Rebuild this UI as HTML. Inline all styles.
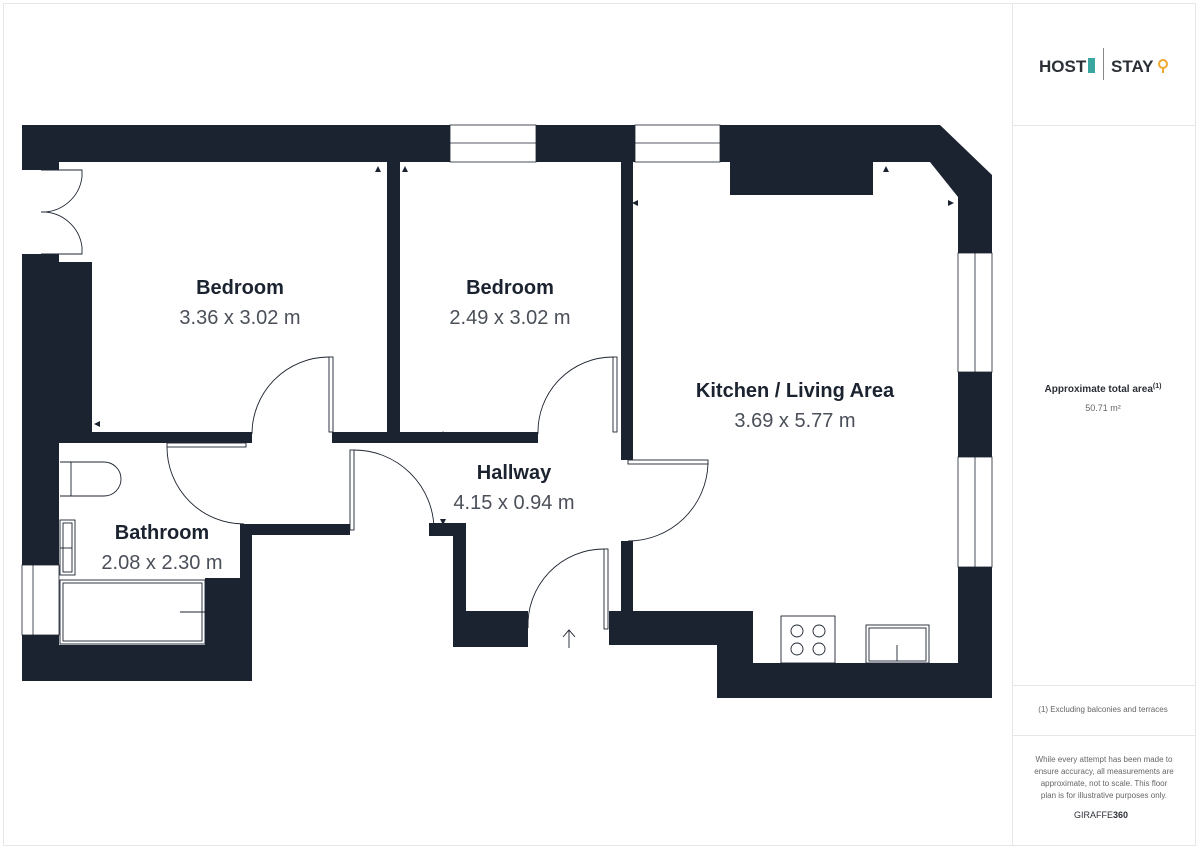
<!DOCTYPE html>
<html><head><meta charset="utf-8"><style>
html,body{margin:0;padding:0;background:#fff;}
body{width:1200px;height:849px;position:relative;overflow:hidden;font-family:"Liberation Sans",sans-serif;}
</style></head><body>
<svg width="1200" height="849" viewBox="0 0 1200 849" xmlns="http://www.w3.org/2000/svg" style="position:absolute;left:0;top:0">
<rect x="3.5" y="3.5" width="1192" height="842" fill="none" stroke="#e6e6e6" stroke-width="1"/>
<line x1="1012.5" y1="3" x2="1012.5" y2="846" stroke="#e6e6e6"/>
<line x1="1012" y1="125.5" x2="1196" y2="125.5" stroke="#e6e6e6"/>
<line x1="1012" y1="685.5" x2="1196" y2="685.5" stroke="#e6e6e6"/>
<line x1="1012" y1="735.5" x2="1196" y2="735.5" stroke="#e6e6e6"/>
<g fill="#1c2330">
<polygon points="22,125 940,125 992,175 992,698 717,698 717,645 609,645 609,611 621,611 621,541 633,541 633,611 753,611 753,663 958,663 958,197 930,162 873,162 873,195 730,195 730,162 633,162 633,460 621,460 621,162 400,162 400,432 538,432 538,443 400,443 387,443 332,443 332,432 387,432 387,162 59,162 59,170 22,170"/>
<polygon points="22,254 59,254 59,262 92,262 92,432 252,432 252,443 59,443 59,578 59,645 205,645 205,578 240,578 240,535 252,535 252,681 22,681"/>
<rect x="240" y="524" width="110" height="11"/>
<polygon points="429,523 466,523 466,611 528,611 528,647 453,647 453,536 429,536"/>
</g>
<g fill="#fff" stroke="#1c2330" stroke-width="0.8">
<rect x="450" y="125" width="86" height="37"/><line x1="450" y1="143" x2="536" y2="143"/>
<rect x="635" y="125" width="85" height="37"/><line x1="635" y1="143" x2="720" y2="143"/>
<rect x="958" y="253" width="34" height="119"/><line x1="975" y1="253" x2="975" y2="372"/>
<rect x="958" y="457" width="34" height="110"/><line x1="975" y1="457" x2="975" y2="567"/>
<rect x="22" y="565" width="37" height="70"/><line x1="33" y1="565" x2="33" y2="635"/>
</g>
<g fill="none" stroke="#1c2330" stroke-width="0.9">
<path d="M41,170 H82 V177 M82,177 A40,40 0 0 1 41,212 M41,254 H82 V247 M82,247 A40,40 0 0 0 41,212"/>
<rect x="329" y="357" width="4" height="75"/><path d="M329,357 A77,77 0 0 0 252,434"/>
<rect x="613" y="357" width="4" height="75"/><path d="M613,357 A75,75 0 0 0 538,434"/>
<rect x="167" y="443" width="79" height="4"/><path d="M167,447 A77,77 0 0 0 244,524"/>
<rect x="350" y="450" width="4" height="80"/><path d="M354,450 A80,80 0 0 1 434,530"/>
<rect x="628" y="460" width="80" height="4"/><path d="M708,464 A80,80 0 0 1 628,541"/>
<rect x="604" y="549" width="4" height="80"/><path d="M604,549 A76,76 0 0 0 528,628"/>
<path d="M569,648 V630 M563,637 L569,630 L575,637"/>
<path d="M60,462 H104 A16,16 0 0 1 104,496 H60 M71,462 V496"/>
<rect x="60" y="520" width="15" height="55"/><rect x="63" y="523" width="9" height="49"/>
<rect x="60" y="580" width="145" height="64"/><rect x="63" y="583" width="139" height="58"/>
<line x1="180" y1="612" x2="205" y2="612"/><line x1="60" y1="548" x2="72" y2="548"/>
<rect x="781" y="616" width="54" height="47"/>
<circle cx="797" cy="631" r="6"/><circle cx="819" cy="631" r="6"/><circle cx="797" cy="649" r="6"/><circle cx="819" cy="649" r="6"/>
<rect x="866" y="625" width="63" height="38"/><rect x="869" y="628" width="57" height="33"/>
<line x1="897" y1="645" x2="897" y2="661"/>
</g>
<g fill="#1c2330">
<path d="M375,172 l3,-6 l3,6z M402,172 l3,-6 l3,6z M632,203 l6,-3 v6z M948,200 l6,3 l-6,3z M883,172 l3,-6 l3,6z M94,424 l6,-3 v6z M440,437 l3,-6 l3,6z M440,519 l3,6 l3,-6z"/>
</g>
<g font-family="Liberation Sans, sans-serif" text-anchor="middle">
<text x="240" y="294" font-size="20" font-weight="bold" fill="#1c2330">Bedroom</text>
<text x="240" y="324" font-size="20" fill="#4a4f59">3.36 x 3.02 m</text>
<text x="510" y="294" font-size="20" font-weight="bold" fill="#1c2330">Bedroom</text>
<text x="510" y="324" font-size="20" fill="#4a4f59">2.49 x 3.02 m</text>
<text x="795" y="397" font-size="20" font-weight="bold" fill="#1c2330">Kitchen / Living Area</text>
<text x="795" y="427" font-size="20" fill="#4a4f59">3.69 x 5.77 m</text>
<text x="514" y="479" font-size="20" font-weight="bold" fill="#1c2330">Hallway</text>
<text x="514" y="509" font-size="20" fill="#4a4f59">4.15 x 0.94 m</text>
<text x="162" y="539" font-size="20" font-weight="bold" fill="#1c2330">Bathroom</text>
<text x="162" y="569" font-size="20" fill="#4a4f59">2.08 x 2.30 m</text>
</g>
<text x="1039" y="72" font-size="17" font-weight="bold" fill="#2b2f36" font-family="Liberation Sans, sans-serif">HOST</text>
<rect x="1088" y="58" width="7" height="15" fill="#3aa6a0"/>
<line x1="1103.5" y1="48" x2="1103.5" y2="80" stroke="#888"/>
<text x="1111" y="72" font-size="17" font-weight="bold" fill="#2b2f36" font-family="Liberation Sans, sans-serif">STAY</text>
<circle cx="1163" cy="64" r="4" fill="none" stroke="#f0a830" stroke-width="2"/>
<line x1="1163" y1="68" x2="1163" y2="73" stroke="#f0a830" stroke-width="2"/>
<g font-family="Liberation Sans, sans-serif" text-anchor="middle">
<text x="1103" y="392" font-size="10" font-weight="bold" fill="#2b2f36">Approximate total area<tspan font-size="7" dy="-4">(1)</tspan></text>
<text x="1103" y="411" font-size="9" fill="#666">50.71 m²</text>
<text x="1103" y="712" font-size="8" fill="#666">(1) Excluding balconies and terraces</text>
<text x="1104" y="762" font-size="8" fill="#666">While every attempt has been made to</text>
<text x="1104" y="774" font-size="8" fill="#666">ensure accuracy, all measurements are</text>
<text x="1104" y="786" font-size="8" fill="#666">approximate, not to scale. This floor</text>
<text x="1104" y="798" font-size="8" fill="#666">plan is for illustrative purposes only.</text>
<text x="1101" y="818" font-size="9" fill="#2b2f36">GIRAFFE<tspan font-weight="bold">360</tspan></text>
</g>
</svg>
</body></html>
